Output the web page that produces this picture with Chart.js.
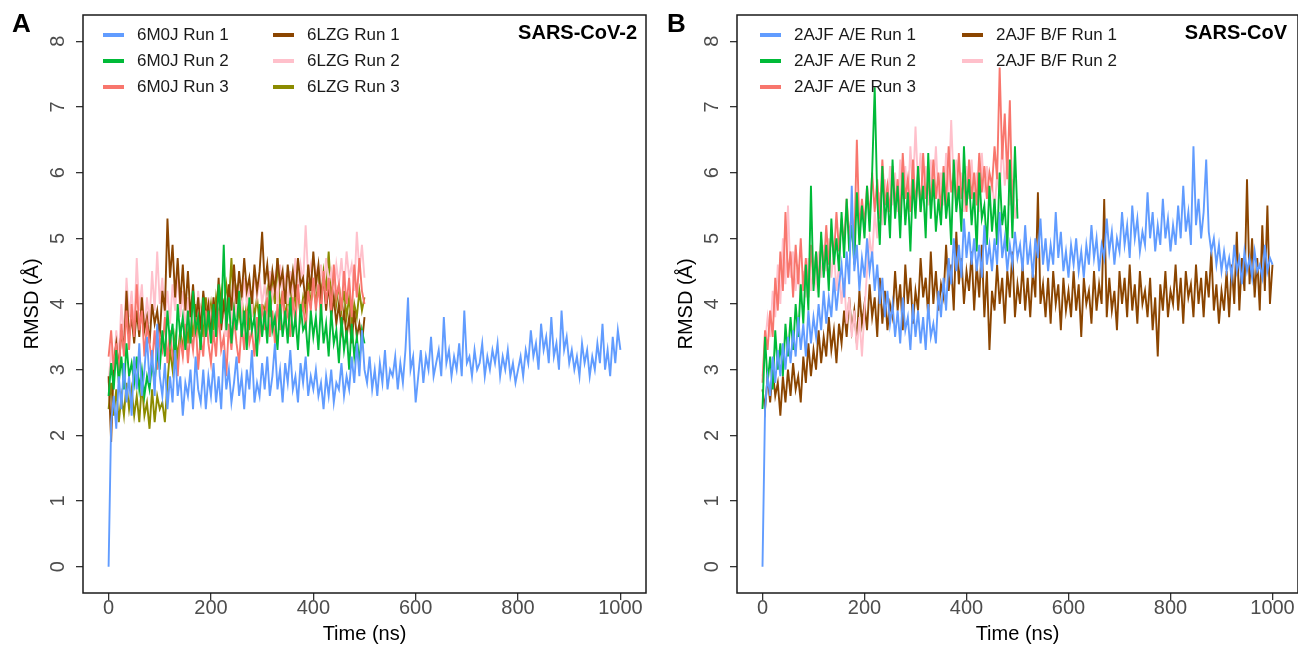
<!DOCTYPE html>
<html>
<head>
<meta charset="utf-8">
<script src="https://cdn.jsdelivr.net/npm/chart.js@4.4.1/dist/chart.umd.min.js"></script>
<style>
  body { margin: 0; background: #fff; }
  #wrap { position: relative; width: 1298px; height: 646px; overflow: hidden; }
  canvas { position: absolute; top: 0; }
  #panelA { left: 0; }
  #panelB { left: 648px; }
</style>
</head>
<body>
<div id="wrap">
  <canvas id="panelA" width="649" height="646"></canvas>
  <canvas id="panelB" width="650" height="646"></canvas>
</div>
<script>
// one frame every 5 ns
const timeStep = 5
const xTicks = [0, 200, 400, 600, 800, 1000]
const yTicks = [0, 1, 2, 3, 4, 5, 6, 7, 8]

/** SARS-CoV-2 RBD/ACE2 runs (RMSD in Angstrom) */
const m0jRun1 = [0,2.2,2.6,2.1,2.9,2.4,3.1,2.5,2.9,2.3,3.2,
  2.7,3.4,2.6,3.0,3.5,2.8,3.3,2.6,3.7,2.9, 2.6,3.1,2.4,2.9,2.5,3.3,2.6,2.9,2.3,2.8,
  2.6,3.0,2.4,3.2,2.7,2.5,3.0,2.4,2.9,2.6, 3.1,2.5,2.9,2.4,3.3,2.7,3.0,2.5,2.8,3.2,
  2.6,2.9,2.4,3.0,2.7,3.3,2.5,2.8,2.6,3.1, 2.7,3.2,2.6,2.9,3.4,2.7,3.0,2.5,3.1,2.8,
  3.3,2.7,2.9,2.5,3.1,2.8,3.2,2.6,2.9,2.7, 3.0,2.6,2.8,2.4,2.9,2.6,3.0,2.5,2.8,2.7,
  3.1,2.6,2.9,2.7,3.2,2.8,3.4,2.9,3.6,3.0, 2.8,3.2,2.7,3.0,2.6,3.1,2.8,3.3,2.7,3.0,
  2.9,3.2,2.7,3.1,2.8,3.3,4.1,3.0,3.2,2.5, 2.9,3.3,2.8,3.2,3.0,3.5,2.9,3.1,3.3,2.9,
  3.8,3.1,3.3,2.9,3.2,3.0,3.4,2.9,3.9,3.1, 3.2,2.9,3.3,3.0,3.1,3.4,2.9,3.2,3.0,3.3,
  3.1,3.4,2.9,3.2,3.0,3.3,2.9,3.1,2.8,3.0, 3.2,2.9,3.3,3.1,3.6,3.2,3.4,3.0,3.7,3.3,
  3.5,3.1,3.8,3.2,3.4,3.0,3.9,3.3,3.5,3.1, 3.3,3.0,3.2,2.9,3.4,3.1,3.3,2.9,3.2,3.0,
  3.4,3.1,3.7,3.0,3.3,2.9,3.5,3.1,3.6,3.3]
const m0jRun2 = [2.6,3.1,2.7,3.3,2.8,3.2,2.7,3.4,2.9,3.1,2.8,
  3.2,2.7,3.0,2.6,2.9,2.7,3.1,2.8,3.3,3.0, 3.6,3.2,3.9,3.4,3.7,3.1,4.0,3.5,3.8,3.3,
  3.9,3.4,4.2,3.6,3.8,3.3,4.1,3.5,3.9,3.4, 4.0,3.5,4.3,3.7,4.9,3.6,4.1,3.4,3.9,3.6,
  4.2,3.5,3.9,3.3,4.1,3.6,3.8,3.2,4.0,3.5, 3.9,3.4,4.2,3.6,3.8,3.3,4.0,3.5,3.9,3.4,
  4.1,3.5,3.8,3.3,4.0,3.6,3.7,3.2,3.9,3.5, 3.8,3.3,4.0,3.4,3.7,3.2,3.9,3.4,3.6,3.1,
  3.8,3.3,3.6,3.0,3.7,3.2,3.5,3.1,3.6,3.4]
const m0jRun3 = [3.2,3.6,3.0,3.4,2.9,3.7,3.2,3.9,3.3,4.0,3.5,
  4.3,3.6,3.9,3.2,3.7,3.4,3.1,3.6,3.0,3.5, 3.3,3.8,3.1,3.6,3.2,3.4,2.9,3.5,3.2,3.7,
  3.1,3.6,3.3,3.8,3.0,3.5,3.2,3.9,3.4,3.1, 3.6,3.2,3.9,3.3,3.5,2.9,3.7,3.3,3.8,3.4,
  3.1,3.7,3.3,3.9,3.4,3.6,3.2,3.8,3.5,4.0, 3.6,4.1,3.5,3.9,3.4,4.0,3.6,4.2,3.7,3.9,
  3.5,4.1,3.7,4.3,3.8,4.0,3.6,4.2,3.9,4.4, 3.9,4.3,3.8,4.5,4.0,4.4,3.9,4.6,4.1,4.3,
  3.9,4.5,4.0,4.4,3.8,4.6,4.1,4.7,4.2,4.0]
const lzgRun1 = [2.9,1.9,3.1,3.4,3.0,3.6,3.3,4.2,3.5,3.8,3.4,
  3.9,3.5,4.1,3.6,3.8,3.4,4.0,3.7,3.9,3.5, 4.2,3.9,5.3,4.4,4.9,4.1,4.7,4.0,4.6,3.9,
  4.5,3.8,4.3,3.7,4.1,3.6,4.2,3.8,4.0,3.5, 4.1,3.7,4.4,3.6,4.0,3.8,4.3,3.9,4.6,4.0,
  4.5,4.1,4.7,4.2,4.4,4.0,4.6,4.2,4.5,5.1, 4.3,4.6,4.1,4.5,4.2,4.7,4.3,4.5,4.0,4.6,
  4.2,4.5,4.1,4.7,4.3,4.4,4.0,4.6,4.2,4.8, 4.3,4.6,4.1,4.4,3.9,4.3,3.8,4.1,3.7,4.0,
  3.6,3.9,3.5,3.8,3.4,3.9,3.5,3.7,3.4,3.8]
const lzgRun2 = [2.8,3.3,3.0,3.6,3.2,4.0,3.5,4.4,3.8,4.2,3.6,
  4.7,3.9,4.3,3.6,4.1,3.7,4.5,3.9,4.8,4.0, 4.4,3.8,4.2,3.7,4.3,3.9,4.5,3.8,4.2,3.6,
  4.1,3.7,4.0,3.5,4.2,3.8,4.0,3.6,4.1,3.7, 4.0,3.6,4.2,3.8,3.9,3.5,4.1,3.7,4.3,3.8,
  4.2,3.9,4.4,4.0,4.3,3.8,4.5,4.1,4.4,4.0, 4.3,3.9,4.5,4.1,4.4,4.0,4.6,4.2,4.4,4.0,
  4.5,4.1,4.7,4.2,4.6,4.3,5.2,4.4,4.6,4.2, 4.5,4.1,4.6,4.2,4.7,4.3,4.5,4.1,4.6,4.3,
  4.7,4.2,4.8,4.4,4.6,4.2,5.1,4.5,4.9,4.4]
const lzgRun3 = [2.4,2.8,2.3,2.7,2.2,2.6,2.3,2.8,2.4,2.7,2.3,
  2.6,2.2,2.8,2.3,2.5,2.1,2.7,2.2,2.6,2.4, 2.5,2.2,2.8,3.3,3.0,3.5,3.2,3.6,3.3,3.8,
  3.4,3.9,3.5,4.0,3.6,3.9,3.5,4.1,3.7,4.0, 3.6,4.1,3.8,4.2,3.9,4.3,4.0,4.7,3.9,4.2,
  3.8,4.1,3.7,4.0,3.6,4.2,3.8,4.1,3.7,4.0, 3.9,4.2,3.8,4.3,4.0,4.7,3.9,4.2,3.8,4.1,
  3.9,4.3,4.0,4.2,3.8,4.1,3.9,4.4,4.0,4.3, 4.0,4.4,4.1,4.5,4.2,4.8,4.1,4.4,4.0,4.3,
  3.9,4.2,3.8,4.1,3.7,4.0,3.8,4.2,3.9,4.1]

/** SARS-CoV 2AJF runs */
const ajfAeRun1 = [0,2.4,2.9,2.6,3.2,2.8,3.3,2.9,3.4,3.0,3.5,
  3.1,3.6,3.2,3.8,3.3,3.7,3.2,3.9,3.4,3.8, 3.5,4.0,3.6,4.2,3.7,4.1,3.8,4.4,3.9,4.3,
  4.6,4.1,4.8,4.3,5.8,4.5,4.9,4.2,4.7,4.4, 5.0,4.5,4.8,4.2,4.6,4.0,4.4,3.8,4.2,3.7,
  4.0,3.5,3.9,3.4,4.1,3.6,3.8,3.3,4.0,3.5, 3.9,3.4,3.8,3.3,4.0,3.5,3.7,3.4,4.2,3.8,
  4.4,3.9,4.7,4.3,5.0,4.5,4.9,4.4,5.3,4.7, 5.1,4.6,5.0,4.5,4.9,4.4,5.2,4.6,4.9,4.5,
  5.0,4.6,5.4,4.7,5.0,4.5,4.9,4.6,5.1,4.7, 4.9,4.5,5.2,4.6,4.9,4.4,5.0,4.7,5.3,4.6,
  5.0,4.5,4.9,4.6,5.4,4.7,5.1,4.5,4.8,4.4, 4.9,4.6,5.0,4.5,4.8,4.4,4.9,4.6,5.2,4.7,
  5.0,4.5,4.9,4.7,5.3,4.8,5.1,4.6,5.0,4.8, 5.4,4.9,5.2,4.7,5.5,5.0,5.3,4.8,5.1,4.9,
  5.7,5.0,5.4,4.8,5.2,4.9,5.6,5.0,5.3,4.8, 5.2,4.9,5.5,5.0,5.8,5.1,5.4,4.9,6.4,5.2,
  5.6,5.0,5.4,6.2,5.1,4.8,5.0,4.6,4.9,4.5, 4.8,4.5,4.7,4.4,4.9,4.5,4.7,4.3,4.8,4.5,
  4.7,4.4,4.8,4.5,4.6,4.4,4.9,4.5,4.7,4.6]
const ajfAeRun2 = [2.4,3.5,2.8,3.2,2.7,3.6,3.0,3.4,2.9,3.7,3.2,
  3.8,3.3,4.0,3.5,4.3,3.7,4.6,3.9,5.8,4.2, 4.8,4.1,5.1,4.4,4.9,4.2,5.3,4.6,5.0,4.5,
  5.4,4.7,5.6,4.8,5.2,4.6,5.7,4.9,5.5,5.0, 5.8,5.1,6.0,7.3,5.6,4.9,6.1,5.2,5.7,5.0,
  6.2,5.3,5.8,5.0,6.0,5.2,5.7,4.8,5.9,5.3, 6.1,5.4,5.8,5.0,6.3,5.3,5.9,5.1,5.6,5.2,
  6.0,5.3,5.7,4.9,6.2,5.4,5.8,5.1,6.4,5.5, 5.9,5.2,5.7,4.8,6.0,5.3,5.5,4.9,5.8,5.1,
  5.6,4.9,6.0,5.2,5.5,4.8,6.2,5.0,6.4,5.3]
const ajfAeRun3 = [2.8,3.6,3.3,3.9,3.5,4.4,3.9,4.8,4.2,5.4,4.4,
  4.8,4.1,4.9,4.3,5.0,4.2,4.7,4.1,4.9,4.3, 4.8,4.3,5.0,4.5,5.2,4.6,5.1,4.7,5.4,4.8,
  5.3,4.9,5.6,5.0,5.4,4.9,6.5,5.1,5.6,5.2, 5.8,5.3,6.0,5.4,5.9,5.3,6.2,5.5,5.8,5.4,
  6.1,5.5,5.9,5.3,6.3,5.6,5.9,5.4,6.2,5.5, 6.0,5.4,6.3,5.6,5.9,5.5,6.2,5.6,6.0,5.4,
  6.1,5.5,6.4,5.7,6.0,5.5,6.3,5.6,5.9,5.4, 6.2,5.6,6.0,5.5,6.3,5.7,6.1,5.6,6.0,5.8,
  6.4,5.9,7.6,6.2,6.9,5.9,7.1,5.4]
const ajfBfRun1 = [2.7,2.4,2.9,2.5,3.0,2.6,2.8,2.3,2.9,2.5,3.0,
  2.6,3.1,2.7,2.9,2.5,3.2,2.8,3.4,2.9,3.3, 3.0,3.6,3.1,3.5,3.2,3.8,3.3,3.6,3.1,3.7,
  3.4,3.9,3.5,4.1,3.6,3.9,3.4,4.2,3.7,4.0, 3.6,4.3,3.8,4.1,3.5,4.4,3.7,4.2,3.6,4.0,
  3.8,4.5,3.9,4.3,3.6,4.6,4.0,4.4,3.7,4.2, 3.9,4.7,4.1,4.4,3.8,4.8,4.0,4.5,3.9,4.3,
  4.1,4.9,4.2,4.6,3.9,5.1,4.3,4.7,4.0,4.5, 4.2,4.8,3.9,4.6,4.1,4.9,3.8,4.5,3.3,4.2,
  3.9,4.6,4.0,4.4,3.7,4.5,4.1,4.8,3.8,4.3, 4.0,4.6,3.9,4.4,3.8,4.5,4.1,5.7,4.0,4.3,
  3.8,4.4,3.7,4.5,4.0,4.3,3.6,4.4,3.9,4.2, 3.8,4.5,3.9,4.3,3.5,4.4,4.0,4.2,3.7,4.5,
  3.9,4.3,4.0,5.6,3.8,4.4,3.9,4.2,3.6,4.5, 4.0,4.4,3.8,4.6,3.9,4.3,3.7,4.5,4.0,4.2,
  3.8,4.4,3.6,4.1,3.2,4.3,3.9,4.5,3.8,4.2, 4.0,4.6,3.9,4.4,3.7,4.5,4.1,4.3,3.8,4.6,
  4.0,4.4,3.8,4.5,4.1,4.8,3.9,4.3,3.7,4.2, 3.9,4.5,3.8,4.6,4.0,5.1,3.9,4.7,4.2,5.9,
  4.3,5.0,4.1,4.7,3.9,5.2,4.2,5.5,4.0,4.6]
const ajfBfRun2 = [2.9,3.4,3.8,3.5,4.2,3.8,4.6,4.0,5.0,4.3,5.5,
  4.4,4.8,4.2,4.6,4.0,4.5,4.1,4.7,4.2,4.6, 4.3,4.8,4.4,4.9,4.5,5.0,4.4,4.8,4.2,4.6,
  4.0,4.4,3.7,4.1,3.5,3.9,3.3,3.8,3.2,3.9, 4.5,5.0,4.7,5.4,5.0,5.7,5.2,5.9,5.4,6.1,
  5.5,6.0,5.4,6.2,5.6,6.1,5.5,6.4,5.7,6.7, 5.8,6.3,5.6,6.1,5.5,6.2,5.7,6.4,5.6,6.0,
  5.5,6.3,5.7,6.8,5.8,6.2,5.6,6.0,5.4,6.1, 5.6,6.2,5.5,6.0,5.4,6.3,5.7,6.1,5.5,5.9,
  5.4,6.0,5.6,6.5,5.8,6.2,5.5,5.9,5.3,5.6]

const BLUE = '#619CFF', GREEN = '#00BA38', SALMON = '#F8766D'
const BROWN = '#8B4500', PINK = '#FFC0CB', OLIVE = '#8B8B00'

function toPoints(values) {
    return values.map((v, i) => ({x: i * timeStep, y: v}))
}

/** draws frame, tick labels, titles and the legend by hand */
function decorPlugin(cfg) {
    return {
        id: 'decor',
        afterDraw(chart) {
            const ctx = chart.ctx
            const area = chart.chartArea
            const xs = chart.scales.x, ys = chart.scales.y
            ctx.save()
            ctx.strokeStyle = '#1a1a1a'
            ctx.lineWidth = 1.5
            ctx.strokeRect(area.left, area.top, area.right - area.left, area.bottom - area.top)

            ctx.fillStyle = '#4d4d4d'
            ctx.font = '20px "Liberation Sans", Arial, sans-serif'
            ctx.textAlign = 'center'
            ctx.textBaseline = 'middle'
            xTicks.forEach(v => ctx.fillText(String(v), xs.getPixelForValue(v), 608))
            yTicks.forEach(v => {
                ctx.save()
                ctx.translate(area.left - 25, ys.getPixelForValue(v))
                ctx.rotate(-Math.PI / 2)
                ctx.fillText(String(v), 0, 0)
                ctx.restore()
            })

            ctx.fillStyle = '#000'
            ctx.fillText('Time (ns)', (area.left + area.right) / 2, 634)
            ctx.save()
            ctx.translate(area.left - 51, (area.top + area.bottom) / 2)
            ctx.rotate(-Math.PI / 2)
            ctx.fillText('RMSD (Å)', 0, 0)
            ctx.restore()

            ctx.font = 'bold 26px "Liberation Sans", Arial, sans-serif'
            ctx.textAlign = 'left'
            ctx.fillText(cfg.letter, cfg.letterX, 25)

            ctx.font = 'bold 20px "Liberation Sans", Arial, sans-serif'
            ctx.textAlign = 'right'
            ctx.fillText(cfg.tag, cfg.tagX, 33)

            ctx.font = '17px "Liberation Sans", Arial, sans-serif'
            ctx.textAlign = 'left'
            cfg.legend.forEach((item, i) => {
                const col = Math.floor(i / 3), row = i % 3
                const x = cfg.legendX[col], y = 35 + row * 26
                ctx.strokeStyle = item.color
                ctx.lineWidth = 4
                ctx.beginPath()
                ctx.moveTo(x, y)
                ctx.lineTo(x + 21, y)
                ctx.stroke()
                ctx.fillStyle = '#1a1a1a'
                ctx.fillText(item.label, x + 34, y)
            })
            ctx.restore()
        }
    }
}

function makeChart(id, series, cfg) {
    // first dataset ends up drawn on top
    const datasets = series.map(s => ({
        label: s.label,
        data: toPoints(s.values),
        borderColor: s.color,
        borderWidth: 1.9,
        pointRadius: 0,
        tension: 0,
        fill: false
    }))
    return new Chart(document.getElementById(id), {
        type: 'line',
        data: {datasets: datasets},
        options: {
            responsive: false,
            animation: false,
            events: [],
            layout: {padding: {top: 15, right: cfg.padRight, left: 0, bottom: 0}},
            plugins: {legend: {display: false}, tooltip: {enabled: false}},
            scales: {
                x: {
                    type: 'linear', min: -50, max: 1050,
                    afterBuildTicks: s => { s.ticks = xTicks.map(v => ({value: v})) },
                    afterFit: s => { s.height = 53 },
                    ticks: {display: false},
                    grid: {drawOnChartArea: false, drawTicks: true, tickLength: 7, color: '#333', lineWidth: 1.3},
                    border: {display: false}
                },
                y: {
                    type: 'linear', min: -0.4, max: 8.4,
                    afterBuildTicks: s => { s.ticks = yTicks.map(v => ({value: v})) },
                    afterFit: s => { s.width = cfg.axisWidth },
                    ticks: {display: false},
                    grid: {drawOnChartArea: false, drawTicks: true, tickLength: 7, color: '#333', lineWidth: 1.3},
                    border: {display: false}
                }
            }
        },
        plugins: [decorPlugin(cfg)]
    })
}

const legendA = [
    {label: '6M0J Run 1', color: BLUE}, {label: '6M0J Run 2', color: GREEN}, {label: '6M0J Run 3', color: SALMON},
    {label: '6LZG Run 1', color: BROWN}, {label: '6LZG Run 2', color: PINK}, {label: '6LZG Run 3', color: OLIVE}
]
makeChart('panelA', [
    {label: '6M0J Run 1', values: m0jRun1, color: BLUE},
    {label: '6M0J Run 2', values: m0jRun2, color: GREEN},
    {label: '6M0J Run 3', values: m0jRun3, color: SALMON},
    {label: '6LZG Run 1', values: lzgRun1, color: BROWN},
    {label: '6LZG Run 2', values: lzgRun2, color: PINK},
    {label: '6LZG Run 3', values: lzgRun3, color: OLIVE}
], {letter: 'A', letterX: 12, tag: 'SARS-CoV-2', tagX: 637, legend: legendA, legendX: [103, 273], padRight: 3, axisWidth: 83})

const legendB = [
    {label: '2AJF A/E Run 1', color: BLUE}, {label: '2AJF A/E Run 2', color: GREEN}, {label: '2AJF A/E Run 3', color: SALMON},
    {label: '2AJF B/F Run 1', color: BROWN}, {label: '2AJF B/F Run 2', color: PINK}
]
makeChart('panelB', [
    {label: '2AJF A/E Run 1', values: ajfAeRun1, color: BLUE},
    {label: '2AJF A/E Run 2', values: ajfAeRun2, color: GREEN},
    {label: '2AJF A/E Run 3', values: ajfAeRun3, color: SALMON},
    {label: '2AJF B/F Run 2', values: ajfBfRun2, color: PINK},
    {label: '2AJF B/F Run 1', values: ajfBfRun1, color: BROWN}
], {letter: 'B', letterX: 19, tag: 'SARS-CoV', tagX: 639, legend: legendB, legendX: [112, 314], padRight: 0, axisWidth: 89})
</script>
</body>
</html>
